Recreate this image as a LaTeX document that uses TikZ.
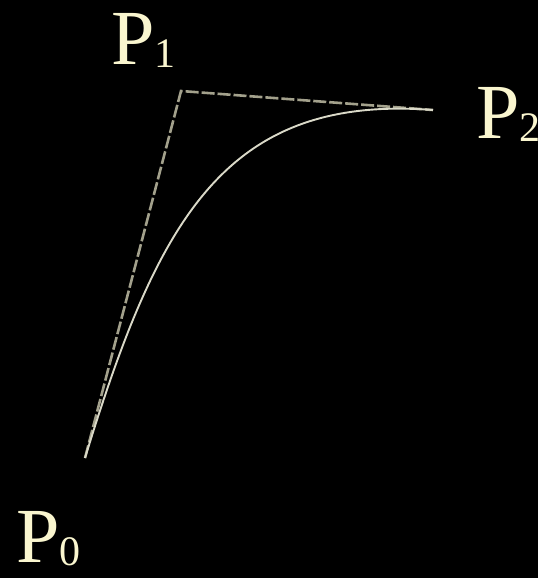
\documentclass[tikz,border=0pt]{standalone}
\usepackage{fontspec}
\setmainfont{Liberation Serif}
\usepackage{xcolor}
\definecolor{backdrop}{HTML}{000000}
\definecolor{hull}{HTML}{A3A18C}
\definecolor{curveink}{HTML}{DAD9C8}
\definecolor{labelcream}{HTML}{FAF6CF}
\newcommand{\ptlabel}[1]{{\fontsize{78}{78}\selectfont P}\raisebox{-3pt}{\fontsize{42}{42}\selectfont #1}}
\tikzset{
  hull line/.style={
    draw=hull,
    line width=2.6pt,
    dash pattern=on 13pt off 3pt
  },
  bezier/.style={
    draw=curveink,
    line width=1.9pt
  },
  point label/.style={
    text=labelcream,
    inner sep=0pt,
    anchor=base west
  }
}

\begin{document}
\begin{tikzpicture}[x=1pt, y=-1pt]

% ---------------------------------------------------------------------------
% Backdrop (fixes the page size)
% ---------------------------------------------------------------------------
\fill[backdrop] (0,0) rectangle (538,578);

% ---------------------------------------------------------------------------
% Control points
% ---------------------------------------------------------------------------
\coordinate (p0) at (85,458);
\coordinate (p1) at (181,91);
\coordinate (p2) at (433,110);
\coordinate (c1) at (158,220);
\coordinate (c2) at (225,94);

\node[point label] (lbl0) at (16,562) {\ptlabel{0}};
\node[point label] (lbl1) at (111,64) {\ptlabel{1}};
\node[point label] (lbl2) at (476,138) {\ptlabel{2}};

% Control polygon, then the curve itself.
\draw[hull line] (p0) -- (p1) -- (p2);
\draw[bezier] (p0) .. controls (c1) and (c2) .. (p2);

\end{tikzpicture}
\end{document}
